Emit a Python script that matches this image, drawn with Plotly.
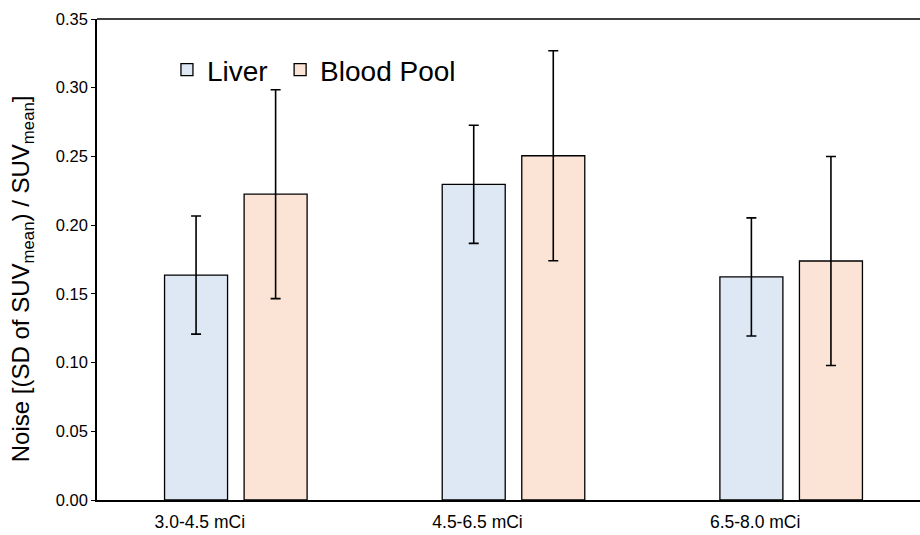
import plotly.graph_objects as go

categories = ["3.0-4.5 mCi", "4.5-6.5 mCi", "6.5-8.0 mCi"]
liver = [0.1637, 0.2297, 0.1623]
liver_err = [0.043, 0.043, 0.043]
blood = [0.2225, 0.2505, 0.1739]
blood_err = [0.076, 0.0764, 0.076]
y_ticks = [0.0, 0.05, 0.10, 0.15, 0.20, 0.25, 0.30, 0.35]
y_title = "Noise [(SD of SUV<sub>mean</sub>) / SUV<sub>mean</sub>]"

FONT = "Liberation Sans, Arial, sans-serif"

fig = go.Figure()
fig.add_trace(go.Bar(
    name="Liver", x=categories, y=liver, legend="legend",
    marker=dict(color="#DEE8F5", line=dict(color="black", width=1.3)),
    error_y=dict(type="data", array=liver_err, visible=True,
                 color="black", thickness=1.6, width=5),
))
fig.add_trace(go.Bar(
    name="Blood Pool", x=categories, y=blood, legend="legend2",
    marker=dict(color="#FBE4D6", line=dict(color="black", width=1.3)),
    error_y=dict(type="data", array=blood_err, visible=True,
                 color="black", thickness=1.6, width=5),
))

leg_common = dict(orientation="h", y=0.894, xanchor="left", yanchor="middle",
                  font=dict(size=28, family=FONT), bgcolor="rgba(0,0,0,0)")

fig.update_layout(
    width=920, height=535,
    margin=dict(l=97, r=0, t=19, b=35),
    paper_bgcolor="white", plot_bgcolor="white",
    barmode="group", bargap=0.427, bargroupgap=0.208,
    font=dict(family=FONT, color="black", size=16),
    showlegend=True,
    legend=dict(x=0.0850, **leg_common),
    legend2=dict(x=0.2225, **leg_common),
    xaxis=dict(range=[-0.5, 2.464], showline=True, linecolor="black", linewidth=1.5,
               ticks="", showgrid=False, tickfont=dict(size=17.5), zeroline=False,
               ticklabelshift=-36, ticklabelstandoff=5),
    yaxis=dict(range=[0, 0.35], tickvals=y_ticks, tickformat=".2f",
               showline=True, linecolor="black", linewidth=1.5,
               ticks="outside", ticklen=4, tickcolor="black", tickwidth=1,
               showgrid=False, zeroline=False, tickfont=dict(size=16.5)),
    annotations=[dict(text=y_title, textangle=-90, xref="paper", yref="paper",
                      x=-0.0911, y=0.459, xanchor="center", yanchor="middle",
                      showarrow=False, font=dict(size=24, family=FONT))],
    shapes=[dict(type="line", xref="paper", yref="paper", x0=0, x1=1, y0=1, y1=1,
                 line=dict(color="black", width=1.5))],
)

fig.write_html("out.html")
